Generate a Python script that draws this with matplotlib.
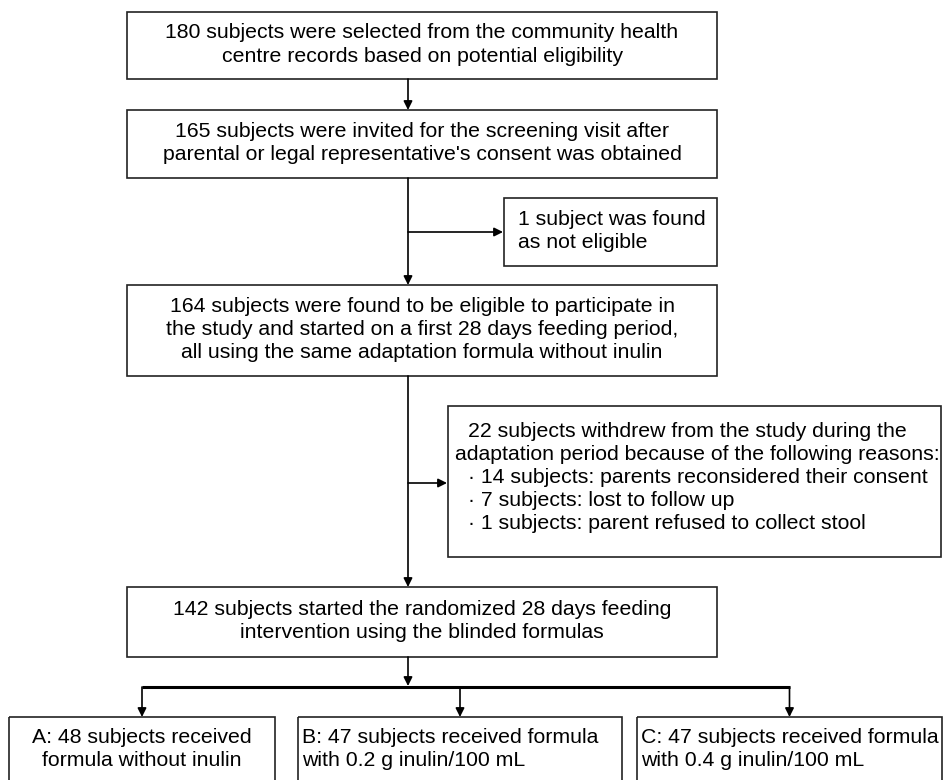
import matplotlib.pyplot as plt
from matplotlib.patches import Rectangle

plt.rcParams['font.family'] = ['Liberation Sans', 'DejaVu Sans']

# box texts (one entry per line)
main_texts = [
    ["180 subjects were selected from the community health",
     "centre records based on potential eligibility"],
    ["165 subjects were invited for the screening visit after",
     "parental or legal representative's consent was obtained"],
    ["164 subjects were found to be eligible to participate in",
     "the study and started on a first 28 days feeding period,",
     "all using the same adaptation formula without inulin"],
    ["142 subjects started the randomized 28 days feeding",
     "intervention using the blinded formulas"],
]
excluded_text = ["1 subject was found", "as not eligible"]
withdrawn_head = ["22 subjects withdrew from the study during the",
                  "adaptation period because of the following reasons:"]
withdrawn_reasons = ["14 subjects: parents reconsidered their consent",
                     "7 subjects: lost to follow up",
                     "1 subjects: parent refused to collect stool"]
group_texts = [
    ["A: 48 subjects received", "formula without inulin"],
    ["B: 47 subjects received formula", "with 0.2 g inulin/100 mL"],
    ["C: 47 subjects received formula", "with 0.4 g inulin/100 mL"],
]

# layout in pixels (x0, x1, y0, y1), y from the top
main_boxes = [(127, 717, 12, 79), (127, 717, 110, 178),
              (127, 717, 285, 376), (127, 717, 587, 657)]
side_box1 = (504, 717, 198, 266)
side_box2 = (448, 941, 406, 557)
group_boxes = [(9, 275, 717, 795), (298, 622, 717, 795), (637, 942, 717, 795)]
trunk_x = 408
FS = 15.3
STEP = 23
EC = '#222222'

fig = plt.figure(figsize=(9.44, 7.8), dpi=100)
ax = fig.add_axes([0, 0, 1, 1])
ax.set_xlim(0, 944)
ax.set_ylim(780, 0)
ax.axis('off')


def box(b, lw=1.2):
    x0, x1, y0, y1 = b
    ax.add_patch(Rectangle((x0, y0), x1 - x0, y1 - y0, fill=False,
                           ec=EC, lw=lw))


def lines(strs, x, yc, ha='center'):
    n = len(strs)
    for i, s in enumerate(strs):
        y = yc + (i - (n - 1) / 2) * STEP
        ax.text(x, y, s, ha=ha, va='center', fontsize=FS, color='black')


def arrow(x0, y0, x1, y1):
    ax.annotate('', xy=(x1, y1), xytext=(x0, y0),
                arrowprops=dict(arrowstyle='-|>', color='black', lw=1.2,
                                mutation_scale=13, shrinkA=0, shrinkB=0))


for b, t in zip(main_boxes, main_texts):
    box(b)
    lines(t, (b[0] + b[1]) / 2, (b[2] + b[3]) / 2 - 1)

# side boxes
box(side_box1)
lines(excluded_text, side_box1[0] + 14, (side_box1[2] + side_box1[3]) / 2 - 1,
      ha='left')
box(side_box2)
yc = (side_box2[2] + side_box2[3]) / 2 - 4
ax.text(side_box2[0] + 20, yc - 2 * STEP, withdrawn_head[0], ha='left',
        va='center', fontsize=FS)
ax.text(side_box2[0] + 7, yc - STEP, withdrawn_head[1], ha='left',
        va='center', fontsize=FS)
for i, s in enumerate(withdrawn_reasons):
    ax.text(side_box2[0] + 20, yc + i * STEP, '\u00b7 ' + s, ha='left',
            va='center', fontsize=FS)

# trunk arrows
arrow(trunk_x, main_boxes[0][3], trunk_x, main_boxes[1][2])
arrow(trunk_x, main_boxes[1][3], trunk_x, main_boxes[2][2])
arrow(trunk_x, 232, side_box1[0] - 1, 232)
arrow(trunk_x, main_boxes[2][3], trunk_x, main_boxes[3][2])
arrow(trunk_x, 483, side_box2[0] - 1, 483)
arrow(trunk_x, main_boxes[3][3], trunk_x, 686)

# split into three groups
bar_y = 687
centers = [(b[0] + b[1]) / 2 for b in group_boxes]
ax.plot([centers[0], centers[-1]], [bar_y, bar_y], color='black', lw=2.2,
        solid_capstyle='butt')
for cx, b, t in zip(centers, group_boxes, group_texts):
    arrow(cx, bar_y, cx, b[2])
    box(b)
    if b is group_boxes[0]:
        lines(t, cx, b[2] + 32)
    else:
        lines(t, b[0] + 4, b[2] + 32, ha='left')

fig.savefig('out.png', dpi=100)
